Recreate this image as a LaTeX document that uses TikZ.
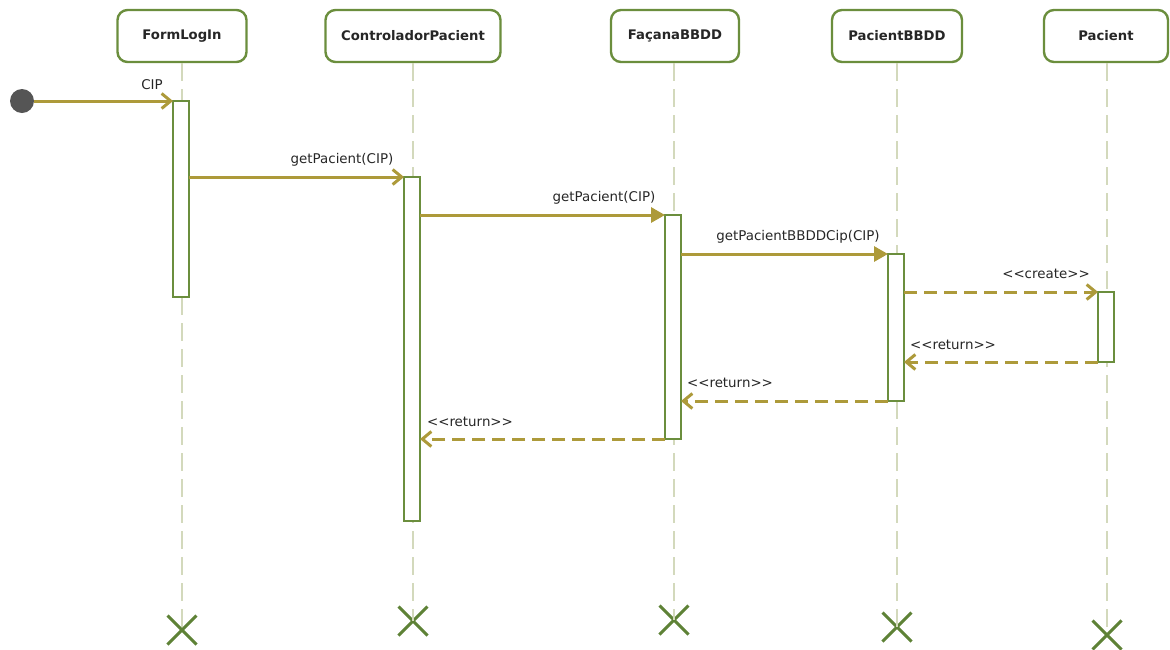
\documentclass[tikz,border=0pt]{standalone}
\usepackage{fontspec}
\setmainfont{DejaVu Sans}
\usetikzlibrary{arrows.meta,shapes.misc}
\definecolor{boxgreen}{HTML}{6B8E3D}
\definecolor{xgreen}{HTML}{5E8236}
\definecolor{msgcol}{HTML}{AD9A3A}
\definecolor{lifecol}{HTML}{D3D9BC}
\definecolor{startcol}{HTML}{555555}
\tikzset{
  head/.style={draw=boxgreen, line width=2.4pt, rounded corners=10pt, fill=white,
    minimum height=52pt, inner sep=0pt, font=\bfseries\fontsize{13.2}{15}\selectfont, text=black!85},
  actbar/.style={draw=boxgreen, line width=2pt, fill=white, minimum width=16pt,
    inner sep=0pt, outer sep=0pt, anchor=north},
  lifeline/.style={draw=lifecol, line width=2pt, dash pattern=on 18pt off 8pt},
  endx/.style={draw=xgreen, cross out, line width=3pt, minimum width=26pt, minimum height=26pt, inner sep=0pt},
  msg/.style={draw=msgcol, line width=3pt, -{Straight Barb[length=9pt,width=15pt,line width=3pt]}},
  msgfill/.style={draw=msgcol, line width=3pt, -{Triangle[length=14pt,width=15pt]}},
  ret/.style={msg, dash pattern=on 13pt off 7pt},
  lbl/.style={font=\fontsize{13.4}{15}\selectfont, text=black!85, inner sep=0pt},
}
\begin{document}
\begin{tikzpicture}[x=1pt,y=-1pt]
\useasboundingbox (0,0) rectangle (1170,649);
% heads
\node[head, minimum width=129pt] (hFL) at (182,36) {FormLogIn};
\node[head, minimum width=175pt] (hCP) at (413,36) {ControladorPacient};
\node[head, minimum width=128pt] (hFB) at (675,36) {FaçanaBBDD};
\node[head, minimum width=130pt] (hPB) at (897,36) {PacientBBDD};
\node[head, minimum width=124pt] (hP) at (1106,36) {Pacient};
% destruction marks
\node[endx] (xFL) at (182,630) {};
\node[endx] (xCP) at (413,621) {};
\node[endx] (xFB) at (674,620) {};
\node[endx] (xPB) at (897,627) {};
\node[endx] (xP) at (1107,635) {};
% lifelines
\draw[lifeline] (hFL.south) -- (xFL.center);
\draw[lifeline] (hCP.south) -- (xCP.center);
\draw[lifeline] (hFB.south -| xFB) -- (xFB.center);
\draw[lifeline] (hPB.south) -- (xPB.center);
\draw[lifeline] (hP.south -| xP) -- (xP.center);
% activation bars
\node[actbar, minimum height=196pt] (aFL) at (181,101) {};
\node[actbar, minimum height=344pt] (aCP) at (412,177) {};
\node[actbar, minimum height=224pt] (aFB) at (673,215) {};
\node[actbar, minimum height=147pt] (aPB) at (896,254) {};
\node[actbar, minimum height=70pt] (aP) at (1106,292) {};
% start
\node[circle, fill=startcol, minimum size=24pt, inner sep=0pt] (st) at (22,101) {};
% y levels
\coordinate (y2) at (0,177);
\coordinate (y3) at (0,215);
\coordinate (y4) at (0,254);
\coordinate (y5) at (0,292);
\coordinate (y6) at (0,362);
\coordinate (y7) at (0,401);
\coordinate (y8) at (0,439);
% messages
\draw[msg] (st) -- (aFL.north west);
\node[lbl] at (152,85) {CIP};
\draw[msg] (aFL.east |- y2) -- (aCP.north west);
\node[lbl] at (342,160) {getPacient(CIP)};
\draw[msgfill] (aCP.east |- y3) -- (aFB.north west);
\node[lbl] at (604,198) {getPacient(CIP)};
\draw[msgfill] (aFB.east |- y4) -- (aPB.north west);
\node[lbl] at (798,237) {getPacientBBDDCip(CIP)};
\draw[ret] (aPB.east |- y5) -- (aP.north west);
\node[lbl] at (1046,274) {{<}{<}create{>}{>}};
\draw[ret] (aP.south west) -- (aPB.east |- y6);
\node[lbl] at (953,345) {{<}{<}return{>}{>}};
\draw[ret] (aPB.south west) -- (aFB.east |- y7);
\node[lbl] at (730,383) {{<}{<}return{>}{>}};
\draw[ret] (aFB.south west) -- (aCP.east |- y8);
\node[lbl] at (470,422) {{<}{<}return{>}{>}};
\end{tikzpicture}
\end{document}
